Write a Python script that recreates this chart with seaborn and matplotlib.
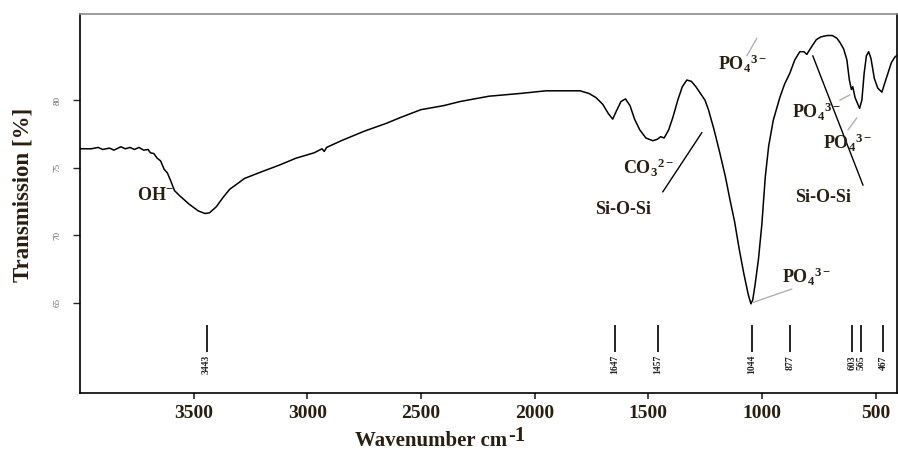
import numpy as np
import pandas as pd
import seaborn as sns
import matplotlib.pyplot as plt

# FTIR spectrum (wavenumber cm-1, transmission %)
wavenumber = [4000, 3950, 3920, 3900, 3870, 3850, 3820, 3800, 3780, 3760, 3740, 3720,
              3700, 3690, 3675, 3660, 3645, 3630, 3615, 3600, 3584, 3560, 3520, 3480,
              3450, 3430, 3400, 3370, 3341, 3300, 3276, 3200, 3121, 3050, 2970, 2935,
              2925, 2915, 2850, 2750, 2650, 2593, 2500, 2400, 2329, 2200, 2065, 1950,
              1850, 1800, 1760, 1730, 1700, 1675, 1656, 1640, 1620, 1600, 1580, 1560,
              1537, 1510, 1480, 1460, 1445, 1430, 1410, 1392, 1370, 1350, 1330, 1310,
              1290, 1270, 1250, 1235, 1210, 1185, 1160, 1140, 1120, 1100, 1080, 1060,
              1048, 1040, 1030, 1015, 1000, 985, 970, 950, 921, 900, 877, 855, 833,
              815, 802, 795, 780, 760, 740, 714, 690, 670, 657, 640, 626, 615, 606,
              600, 590, 580, 570, 560, 550, 540, 530, 520, 505, 490, 472, 455, 430,
              415, 400]
transmission = [76.4, 76.4, 76.5, 76.35, 76.45, 76.3, 76.55, 76.4, 76.5, 76.35, 76.5, 76.3,
                76.35, 76.1, 76.05, 75.7, 75.5, 74.9, 74.6, 74.0, 73.3, 72.9, 72.3, 71.8,
                71.6, 71.65, 72.1, 72.8, 73.4, 73.9, 74.2, 74.7, 75.2, 75.7, 76.1, 76.4,
                76.2, 76.5, 77.0, 77.7, 78.3, 78.7, 79.3, 79.6, 79.9, 80.3, 80.5, 80.7,
                80.7, 80.7, 80.5, 80.2, 79.7, 79.0, 78.6, 79.2, 79.9, 80.1, 79.6, 78.6,
                77.8, 77.2, 77.0, 77.1, 77.3, 77.2, 77.8, 78.7, 80.0, 81.0, 81.5, 81.4,
                81.0, 80.5, 80.0, 79.3, 77.8, 76.1, 74.3, 72.6, 71.0, 69.0, 67.2, 65.6,
                64.9, 65.2, 66.3, 68.2, 70.8, 74.3, 76.6, 78.5, 80.2, 81.2, 82.0, 83.0, 83.6,
                83.6, 83.4, 83.6, 84.0, 84.5, 84.7, 84.8, 84.8, 84.6, 84.3, 83.8, 83.0, 81.5, 80.8,
                81.0, 80.2, 79.8, 79.4, 80.0, 82.0, 83.3, 83.6, 83.1, 81.6, 80.9, 80.6, 81.5, 82.8,
                83.2, 83.4]

# peak positions marked under the spectrum
peaks = [3443, 1647, 1457, 1044, 877, 603, 565, 467]
peak_labels = ["3443", "1647", "1457", "1044", "877", "603", "565", "467"]

# band assignments: text, text position, leader line (start, end)
bands = ["OH$^{-}$", "CO$_3$$^{2-}$", "Si-O-Si", "PO$_4$$^{3-}$", "PO$_4$$^{3-}$",
         "PO$_4$$^{3-}$", "Si-O-Si", "PO$_4$$^{3-}$"]
band_x = [3751, 1612, 1735, 1194, 868, 732, 855, 912]
band_y = [72.9, 75.0, 71.9, 82.7, 79.1, 76.8, 72.8, 66.9]
line_x = [None, (1436, 1264), None, (1066, 1022), (657, 613), (621, 582), (776, 555), (1040, 868)]
line_y = [None, (73.2, 77.6), None, (83.3, 84.6), (80.0, 80.4), (77.8, 78.7), (83.3, 73.7), (65.0, 66.0)]
line_c = [None, "black", None, "#b0b0b0", "#b0b0b0", "#b0b0b0", "black", "#b0b0b0"]

text_color = "#2a1e10"

sns.set_style("ticks")
plt.rcParams["font.family"] = ["Liberation Serif", "DejaVu Serif"]
plt.rcParams["mathtext.fontset"] = "custom"
plt.rcParams["mathtext.rm"] = "Liberation Serif:bold"
plt.rcParams["mathtext.bf"] = "Liberation Serif:bold"
plt.rcParams["mathtext.default"] = "bf"

df = pd.DataFrame({"wavenumber": wavenumber, "transmission": transmission})

fig = plt.figure(figsize=(8.98, 4.5), dpi=100)
ax = fig.add_axes([0.089, 0.127, 0.91, 0.842])
sns.lineplot(data=df, x="wavenumber", y="transmission", color="black", linewidth=1.1,
             sort=False, ax=ax)

ax.set_xlim(4000, 405)
ax.set_ylim(58.3, 86.4)

# peak markers
ax.vlines(peaks, 61.3, 63.3, color="black", linewidth=1.2)
for p, lab in zip(peaks, peak_labels):
    ax.text(p, 61.1, lab, rotation=90, ha="center", va="top", fontsize=7,
            fontweight="bold", color="#222222")

for i, txt in enumerate(bands):
    ax.text(band_x[i], band_y[i], txt, ha="left", va="center", fontsize=13,
            fontweight="bold", color=text_color)
    if line_x[i] is not None:
        ax.plot(line_x[i], line_y[i], color=line_c[i], linewidth=1.0)

ax.set_xticks([3500, 3000, 2500, 2000, 1500, 1000, 500])
ax.set_xticklabels(["3500", "3000", "2500", "2000", "1500", "1000", "500"],
                   fontsize=14, fontweight="bold", color=text_color)
ax.set_yticks([65, 70, 75, 80])
ax.set_yticklabels(["65", "70", "75", "80"], rotation=90, fontsize=6.5, color="#666666",
                   va="center")
ax.tick_params(axis="x", length=4, width=1.2, pad=5)
ax.tick_params(axis="y", length=5, width=1.0, pad=8)
ax.set_xlabel("")
ax.set_ylabel("")

# axis titles placed in pixels like the original
fig.text(23 / 898, 1 - 195 / 450, "Transmission [%]", rotation=90, ha="center",
         va="center", fontsize=16.5, fontweight="bold", color=text_color)
xl = fig.text(355 / 898, 1 - 441 / 450, "Wavenumber cm", ha="left", va="center",
              fontsize=15, fontweight="bold", color=text_color)
fig.canvas.draw()
bb = xl.get_window_extent()
fig.text((bb.x1 + 1) / 898, 1 - 436 / 450, "-1", ha="left", va="center",
         fontsize=15, fontweight="bold", color=text_color)

for side in ["left", "right", "bottom"]:
    ax.spines[side].set_visible(True)
    ax.spines[side].set_color("black")
    ax.spines[side].set_linewidth(1.2)
ax.spines["top"].set_visible(True)
ax.spines["top"].set_color("#8a8a8a")
ax.spines["top"].set_linewidth(1.2)

fig.savefig("out.png", dpi=100)
